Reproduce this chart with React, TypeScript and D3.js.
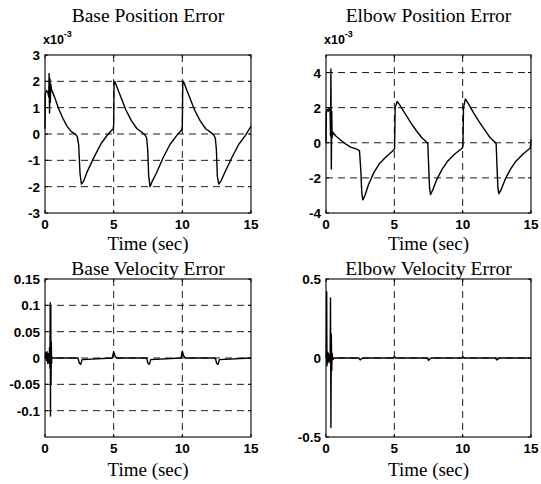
import React, { useEffect, useRef } from "react";
import { select, scaleLinear, line } from "d3";

// time ticks shared by all four panels
const timeTicks = [0, 5, 10, 15];
const timeGrid = [5, 10];

// base position error, values in units of 1e-3
const basePosTime = [
  0, 0.02, 0.1, 0.2, 0.27, 0.3, 0.33, 0.36, 0.39, 0.42, 0.47, 0.7, 1.0, 1.3, 1.6, 1.9, 2.2,
  2.35, 2.45, 2.55, 2.65, 2.8, 3.1, 3.6, 4.1, 4.6, 4.97,
  5.0, 5.03, 5.08, 5.3, 5.6, 5.9, 6.3, 6.7, 7.1, 7.3, 7.4, 7.48, 7.55, 7.65, 7.8, 8.1, 8.6,
  9.1, 9.6, 9.95,
  10.0, 10.03, 10.08, 10.3, 10.6, 10.9, 11.3, 11.7, 12.1, 12.3, 12.4, 12.48, 12.55, 12.65,
  12.8, 13.1, 13.6, 14.1, 14.6, 15.0
];
const basePosError = [
  0.2, 1.5, 1.65, 1.6, 1.4, 2.3, 0.8, 2.1, 1.2, 1.9, 1.7, 1.4, 0.95, 0.6, 0.3, 0.1, 0.0,
  -0.1, -0.4, -1.5, -1.9, -1.8, -1.4, -0.85, -0.35, 0.0, 0.2,
  0.35, 1.9, 2.0, 1.7, 1.3, 0.9, 0.5, 0.2, 0.05, -0.05, -0.15, -0.6, -1.6, -2.0, -1.8, -1.5,
  -0.9, -0.4, -0.05, 0.15,
  0.3, 1.9, 2.0, 1.7, 1.3, 0.9, 0.5, 0.2, 0.05, -0.05, -0.15, -0.6, -1.6, -1.9,
  -1.8, -1.45, -0.9, -0.4, -0.05, 0.3
];
const basePosTicks = [-3, -2, -1, 0, 1, 2, 3];

// elbow position error, values in units of 1e-3
const elbowPosTime = [
  0, 0.02, 0.1, 0.18, 0.25, 0.3, 0.33, 0.36, 0.39, 0.42, 0.45, 0.5, 0.7, 1.0, 1.4, 1.8, 2.2,
  2.45, 2.55, 2.62, 2.7, 2.85, 3.1, 3.5, 3.9, 4.4, 4.98,
  5.02, 5.06, 5.2, 5.4, 5.8, 6.2, 6.6, 7.0, 7.35, 7.45, 7.52, 7.58, 7.65, 7.8, 8.1, 8.5,
  8.9, 9.4, 9.98,
  10.02, 10.06, 10.2, 10.4, 10.8, 11.2, 11.6, 12.0, 12.35, 12.45, 12.52, 12.58, 12.65, 12.8,
  13.1, 13.5, 13.9, 14.4, 14.95, 15.0
];
const elbowPosError = [
  0, 1.7, 1.9, 1.8, 2.0, 1.9, 0.4, 4.2, -1.5, 1.8, 0.3, 0.6, 0.4, 0.2, -0.05, -0.25, -0.35,
  -0.45, -1.6, -2.9, -3.25, -3.0, -2.4, -1.7, -1.2, -0.8, -0.4,
  -0.3, 2.0, 2.35, 2.15, 1.65, 1.15, 0.7, 0.3, 0.05, -0.05, -1.5, -2.6, -2.95, -2.7, -2.1, -1.5,
  -1.05, -0.65, -0.3,
  -0.2, 2.0, 2.5, 2.25, 1.7, 1.2, 0.75, 0.3, 0.05, -0.05, -1.5, -2.6, -2.9, -2.7,
  -2.1, -1.5, -1.05, -0.65, -0.3, 0.2
];
const elbowPosTicks = [-4, -2, 0, 2, 4];

// base velocity error
const baseVelTime = [
  0, 0.05, 0.1, 0.15, 0.2, 0.25, 0.3, 0.33, 0.36, 0.38, 0.4, 0.42, 0.44, 0.46, 0.48, 0.5,
  0.6, 2.4, 2.5, 2.6, 2.7, 4.9, 5.0, 5.1, 5.2, 7.4, 7.5, 7.6, 7.7, 9.9, 10.0, 10.1, 10.2,
  12.4, 12.5, 12.6, 12.7, 15.0
];
const baseVelError = [
  0, 0.01, -0.005, 0.012, -0.01, 0.008, -0.01, 0.02, -0.02, 0.105, -0.11, 0.1, -0.05, 0.03,
  -0.01, 0.002, 0, 0, -0.01, -0.012, -0.003, 0, 0.012, 0.004, 0, 0, -0.01, -0.012, -0.003,
  0, 0.013, 0.004, 0, 0, -0.01, -0.012, -0.003, 0
];
const baseVelTicks = [-0.1, -0.05, 0, 0.05, 0.1, 0.15];

// elbow velocity error
const elbowVelTime = [
  0, 0.03, 0.05, 0.07, 0.1, 0.14, 0.18, 0.22, 0.26, 0.3, 0.33, 0.36, 0.39, 0.42, 0.45, 0.5,
  0.6, 2.4, 2.5, 2.6, 2.7, 4.95, 5.0, 5.1, 7.4, 7.5, 7.6, 7.7, 9.95, 10.0, 10.1, 12.4, 12.5,
  12.6, 12.7, 15.0
];
const elbowVelError = [
  0, 0.05, 0.42, -0.05, 0.04, -0.03, 0.03, -0.02, 0.02, -0.03, 0.38, -0.44, 0.15, -0.08, 0.03,
  -0.01, 0, 0, -0.012, -0.005, 0, 0, 0.01, 0, 0, -0.015, -0.006, 0, 0, 0.01, 0, 0, -0.012,
  -0.005, 0, 0
];
const elbowVelTicks = [-0.5, 0, 0.5];

const W = 541;
const H = 484;
const cols = [[45, 251], [326, 531]];
const rows = [[55, 213], [279, 437]];

const panels = [
  { title: "Base Position Error", t: basePosTime, v: basePosError, yDomain: [-3, 3], yTicks: basePosTicks, exp: true, col: 0, row: 0 },
  { title: "Elbow Position Error", t: elbowPosTime, v: elbowPosError, yDomain: [-4, 5], yTicks: elbowPosTicks, exp: true, col: 1, row: 0 },
  { title: "Base Velocity Error", t: baseVelTime, v: baseVelError, yDomain: [-0.15, 0.15], yTicks: baseVelTicks, exp: false, col: 0, row: 1 },
  { title: "Elbow Velocity Error", t: elbowVelTime, v: elbowVelError, yDomain: [-0.5, 0.5], yTicks: elbowVelTicks, exp: false, col: 1, row: 1 }
];

const serif = "'Liberation Serif', 'Times New Roman', serif";
const sans = "'Liberation Sans', Arial, sans-serif";

function App() {
  const svgRef = useRef(null);

  useEffect(() => {
    const svg = select(svgRef.current);
    svg.selectAll("*").remove();

    panels.forEach((p) => {
      const [x0, x1] = cols[p.col];
      const [y0, y1] = rows[p.row];
      const x = scaleLinear().domain([0, 15]).range([x0, x1]);
      const y = scaleLinear().domain(p.yDomain).range([y1, y0]);
      const g = svg.append("g");

      // dashed grid
      const yGrid = p.yTicks.filter((d) => d > p.yDomain[0] && d < p.yDomain[1]);
      g.selectAll(".hg")
        .data(yGrid)
        .join("line")
        .attr("x1", x0)
        .attr("x2", x1)
        .attr("y1", (d) => y(d))
        .attr("y2", (d) => y(d))
        .attr("stroke", "#000")
        .attr("stroke-width", 0.9)
        .attr("stroke-dasharray", "7,5");
      g.selectAll(".vg")
        .data(timeGrid)
        .join("line")
        .attr("x1", (d) => x(d))
        .attr("x2", (d) => x(d))
        .attr("y1", y0)
        .attr("y2", y1)
        .attr("stroke", "#000")
        .attr("stroke-width", 0.9)
        .attr("stroke-dasharray", "7,5");

      // inward ticks
      const tl = 3;
      p.yTicks.forEach((d) => {
        g.append("line").attr("x1", x0).attr("x2", x0 + tl).attr("y1", y(d)).attr("y2", y(d)).attr("stroke", "#000");
        g.append("line").attr("x1", x1).attr("x2", x1 - tl).attr("y1", y(d)).attr("y2", y(d)).attr("stroke", "#000");
      });
      timeTicks.forEach((d) => {
        g.append("line").attr("x1", x(d)).attr("x2", x(d)).attr("y1", y1).attr("y2", y1 - tl).attr("stroke", "#000");
        g.append("line").attr("x1", x(d)).attr("x2", x(d)).attr("y1", y0).attr("y2", y0 + tl).attr("stroke", "#000");
      });

      // data curve
      const pts = p.t.map((t, i) => [t, p.v[i]]);
      g.append("path")
        .attr("d", line().x((d) => x(d[0])).y((d) => y(d[1]))(pts))
        .attr("fill", "none")
        .attr("stroke", "#000")
        .attr("stroke-width", 1.4)
        .attr("stroke-linejoin", "round");

      // box
      g.append("rect")
        .attr("x", x0)
        .attr("y", y0)
        .attr("width", x1 - x0)
        .attr("height", y1 - y0)
        .attr("fill", "none")
        .attr("stroke", "#000")
        .attr("stroke-width", 1.1);

      // tick labels
      g.selectAll(".yl")
        .data(p.yTicks)
        .join("text")
        .attr("x", x0 - 5)
        .attr("y", (d) => y(d) + 5)
        .attr("text-anchor", "end")
        .attr("font-family", sans)
        .attr("font-weight", "bold")
        .attr("font-size", 13.5)
        .text((d) => String(d));
      g.selectAll(".xl")
        .data(timeTicks)
        .join("text")
        .attr("x", (d) => x(d))
        .attr("y", y1 + 16)
        .attr("text-anchor", "middle")
        .attr("font-family", sans)
        .attr("font-weight", "bold")
        .attr("font-size", 13.5)
        .text((d) => String(d));

      // exponent label
      if (p.exp) {
        const e = g.append("text")
          .attr("x", x0 - 2)
          .attr("y", y0 - 11)
          .attr("font-family", sans)
          .attr("font-weight", "bold")
          .attr("font-size", 12.5);
        e.append("tspan").text("x10");
        e.append("tspan").attr("dy", -7).attr("font-size", 9).text("-3");
      }

      // title and x label
      g.append("text")
        .attr("x", (x0 + x1) / 2)
        .attr("y", p.row === 0 ? y0 - 33 : y0 - 4)
        .attr("text-anchor", "middle")
        .attr("font-family", serif)
        .attr("font-size", 19.5)
        .text(p.title);
      g.append("text")
        .attr("x", (x0 + x1) / 2)
        .attr("y", p.row === 0 ? y1 + 37 : y1 + 39)
        .attr("text-anchor", "middle")
        .attr("font-family", serif)
        .attr("font-size", 19)
        .text("Time (sec)");
    });
  }, []);

  return (
    <svg
      ref={svgRef}
      width={W}
      height={H}
      style={{ position: "absolute", left: 0, top: 0, background: "#fff" }}
    />
  );
}

export default App;
